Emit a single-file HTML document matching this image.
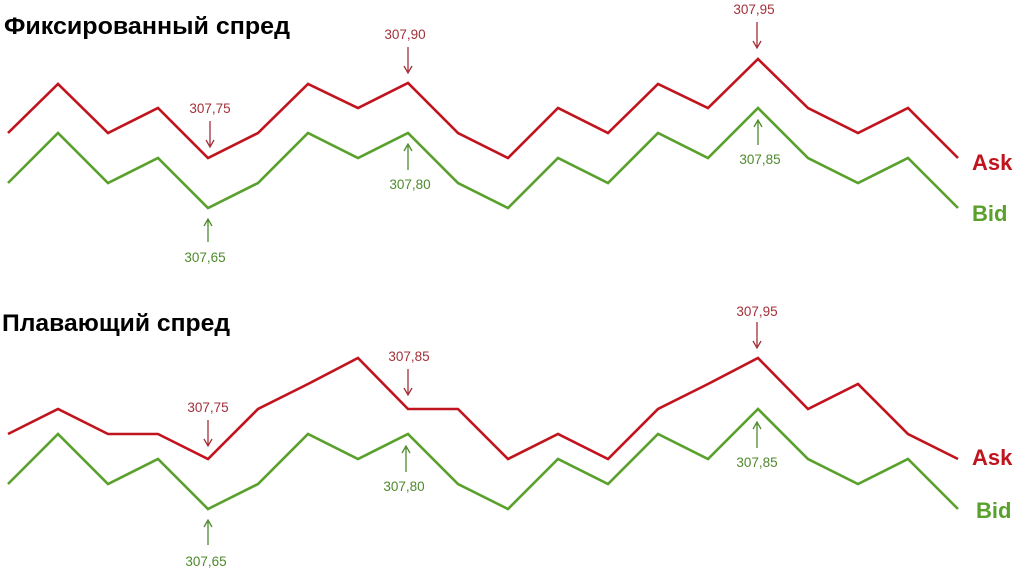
<!DOCTYPE html>
<html><head><meta charset="utf-8"><style>
html,body{margin:0;padding:0;background:#fff;}
svg{display:block;}
.t{font-family:"Liberation Sans",sans-serif;font-weight:bold;font-size:24px;fill:#000;}
.l{font-family:"Liberation Sans",sans-serif;font-size:13.5px;text-anchor:middle;}
.r{fill:#a3303a}.g{fill:#4f8a2c}
.big{font-family:"Liberation Sans",sans-serif;font-weight:bold;font-size:22px;}
</style></head><body>
<svg width="1024" height="570" viewBox="0 0 1024 570" xmlns="http://www.w3.org/2000/svg">
<text class="t" x="4" y="34" textLength="286" lengthAdjust="spacingAndGlyphs">Фиксированный спред</text>
<text class="t" x="2" y="331" textLength="228" lengthAdjust="spacingAndGlyphs">Плавающий спред</text>
<g fill="none" stroke-width="2.6" stroke-linejoin="miter">
<polyline stroke="#c0141e" points="8,133 58,84 108,133 158,108 208,158 258,133 308,84 358,108 408,83 458,133 508,158 558,108 608,133 658,84 708,108 758,59 808,108 858,133 908,108 958,158"/>
<polyline stroke="#5aa02c" points="8,183 58,133 108,183 158,158 208,208 258,183 308,133 358,158 408,133 458,183 508,208 558,158 608,183 658,133 708,158 758,108 808,158 858,183 908,158 958,208"/>
<polyline stroke="#c0141e" points="8,434 58,409 108,434 158,434 208,459 258,409 308,384 358,358 408,409 458,409 508,459 558,434 608,459 658,409 708,384 758,358 808,409 858,384 908,434 958,459"/>
<polyline stroke="#5aa02c" points="8,484 58,434 108,484 158,459 208,509 258,484 308,434 358,459 408,434 458,484 508,509 558,459 608,484 658,434 708,459 758,409 808,459 858,484 908,459 958,509"/>
</g>
<g stroke-width="1.3" fill="none">
<g stroke="#a3303a">
<path d="M210,121V147M206,140L210,147L214,140"/>
<path d="M408,47V73M404,66L408,73L412,66"/>
<path d="M757,22V48M753,41L757,48L761,41"/>
<path d="M208,420V446M204,439L208,446L212,439"/>
<path d="M408,369V395M404,388L408,395L412,388"/>
<path d="M757,322V348M753,341L757,348L761,341"/>
</g>
<g stroke="#4f8a2c">
<path d="M208,242V219M204,226L208,219L212,226"/>
<path d="M408,170V144M404,151L408,144L412,151"/>
<path d="M758,145V120M754,127L758,120L762,127"/>
<path d="M208,545V520M204,527L208,520L212,527"/>
<path d="M406,472V446M402,453L406,446L410,453"/>
<path d="M757,448V422M753,429L757,422L761,429"/>
</g>
</g>
<g class="l">
<text class="r" x="210" y="113">307,75</text>
<text class="r" x="405" y="39">307,90</text>
<text class="r" x="754" y="14">307,95</text>
<text class="g" x="205" y="262">307,65</text>
<text class="g" x="410" y="189">307,80</text>
<text class="g" x="760" y="164">307,85</text>
<text class="r" x="208" y="412">307,75</text>
<text class="r" x="409" y="361">307,85</text>
<text class="r" x="757" y="316">307,95</text>
<text class="g" x="206" y="566">307,65</text>
<text class="g" x="404" y="491">307,80</text>
<text class="g" x="757" y="467">307,85</text>
</g>
<text class="big" x="972" y="170" fill="#c0141e">Ask</text>
<text class="big" x="972" y="221" fill="#5aa02c">Bid</text>
<text class="big" x="972" y="465" fill="#c0141e">Ask</text>
<text class="big" x="976" y="518" fill="#5aa02c">Bid</text>
</svg>
</body></html>
